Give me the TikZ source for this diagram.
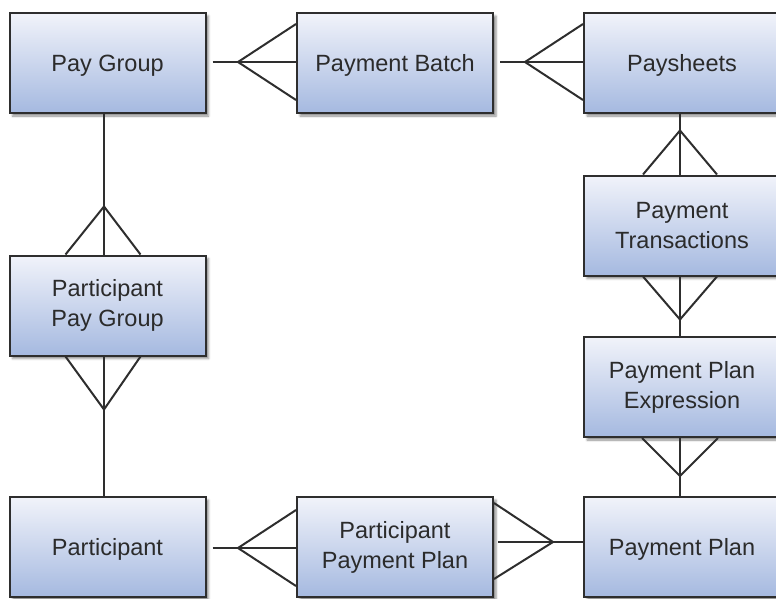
\documentclass[tikz,border=0pt]{standalone}
\usepackage{fontspec}
\setmainfont{Liberation Sans}
\usetikzlibrary{shadows.blur}
\definecolor{boxtop}{HTML}{F1F3FA}
\definecolor{boxbottom}{HTML}{A5B9E0}
\definecolor{edge}{HTML}{2E2E2E}
\definecolor{label}{HTML}{2B2B2B}
\tikzset{
  entity/.style={rectangle, draw=edge, line width=2pt,
    minimum width=196pt, minimum height=100pt, inner sep=0pt,
    top color=boxtop, bottom color=boxbottom,
    blur shadow={shadow xshift=3pt, shadow yshift=-3pt,
      shadow blur steps=4, shadow opacity=45},
    align=center, text=label,
    font=\fontsize{23.5}{30}\selectfont},
  oneline/.style={text depth=0pt},
  rel/.style={draw=edge, line width=2pt, line join=miter}
}
\begin{document}
\begin{tikzpicture}[x=1pt,y=-1pt]
\useasboundingbox (0,0) rectangle (776,598);
\clip (0,0) rectangle (776,598);

% entities
\node[entity,oneline] (pg)  at (107.5,63)  {Pay Group};
\node[entity,oneline] (pb)  at (395,63)    {Payment Batch};
\node[entity,oneline] (ps)  at (682,63)    {Paysheets};
\node[entity] (pt)  at (682,225.5) {Payment\\Transactions};
\node[entity] (ppe) at (682,387)   {Payment Plan\\Expression};
\node[entity,oneline] (pp)  at (682,547)   {Payment Plan};
\node[entity] (ppp) at (395,547)   {Participant\\Payment Plan};
\node[entity,oneline] (p)   at (107.5,547) {Participant};
\node[entity] (ppg) at (107.5,305.5) {Participant\\Pay Group};

% Pay Group -< Payment Batch
\draw[rel] ([xshift=6pt,yshift=1pt]pg.east) -- ([yshift=1pt]pb.west);
\draw[rel] ([yshift=39pt]pb.west) -- ([xshift=-58pt,yshift=1pt]pb.west) -- ([yshift=-37pt]pb.west);

% Payment Batch -< Paysheets
\draw[rel] ([xshift=6pt,yshift=1pt]pb.east) -- ([yshift=1pt]ps.west);
\draw[rel] ([yshift=39pt]ps.west) -- ([xshift=-58pt,yshift=1pt]ps.west) -- ([yshift=-37pt]ps.west);

% Paysheets -< Payment Transactions
\draw[rel] ([xshift=-2pt]ps.south) -- ([xshift=-2pt]pt.north);
\draw[rel] ([xshift=-39pt]pt.north) -- ([xshift=-2pt,yshift=44pt]pt.north) -- ([xshift=35pt]pt.north);

% Payment Transactions >- Payment Plan Expression
\draw[rel] ([xshift=-2pt]pt.south) -- ([xshift=-2pt]ppe.north);
\draw[rel] ([xshift=-39pt]pt.south) -- ([xshift=-2pt,yshift=-43pt]pt.south) -- ([xshift=35pt]pt.south);

% Payment Plan Expression >- Payment Plan
\draw[rel] ([xshift=-2pt]ppe.south) -- ([xshift=-2pt]pp.north);
\draw[rel] ([xshift=-40pt]ppe.south) -- ([xshift=-2pt,yshift=-38pt]ppe.south) -- ([xshift=36pt]ppe.south);

% Participant Payment Plan >- Payment Plan
\draw[rel] ([xshift=4pt,yshift=5pt]ppp.east) -- ([yshift=5pt]pp.west);
\draw[rel] ([yshift=44pt]ppp.east) -- ([xshift=59pt,yshift=5pt]ppp.east) -- ([yshift=-32pt]ppp.east);

% Participant -< Participant Payment Plan
\draw[rel] ([xshift=6pt,yshift=-1pt]p.east) -- ([yshift=-1pt]ppp.west);
\draw[rel] ([yshift=37pt]ppp.west) -- ([xshift=-58pt,yshift=-1pt]ppp.west) -- ([yshift=-39pt]ppp.west);

% Pay Group -< Participant Pay Group
\draw[rel] ([xshift=-3.5pt]pg.south) -- ([xshift=-3.5pt]ppg.north);
\draw[rel] ([xshift=-42pt]ppg.north) -- ([xshift=-3.5pt,yshift=48pt]ppg.north) -- ([xshift=33pt]ppg.north);

% Participant Pay Group >- Participant
\draw[rel] ([xshift=-3.5pt]ppg.south) -- ([xshift=-3.5pt]p.north);
\draw[rel] ([xshift=-42pt]ppg.south) -- ([xshift=-3.5pt,yshift=-53pt]ppg.south) -- ([xshift=33pt]ppg.south);
\end{tikzpicture}
\end{document}
